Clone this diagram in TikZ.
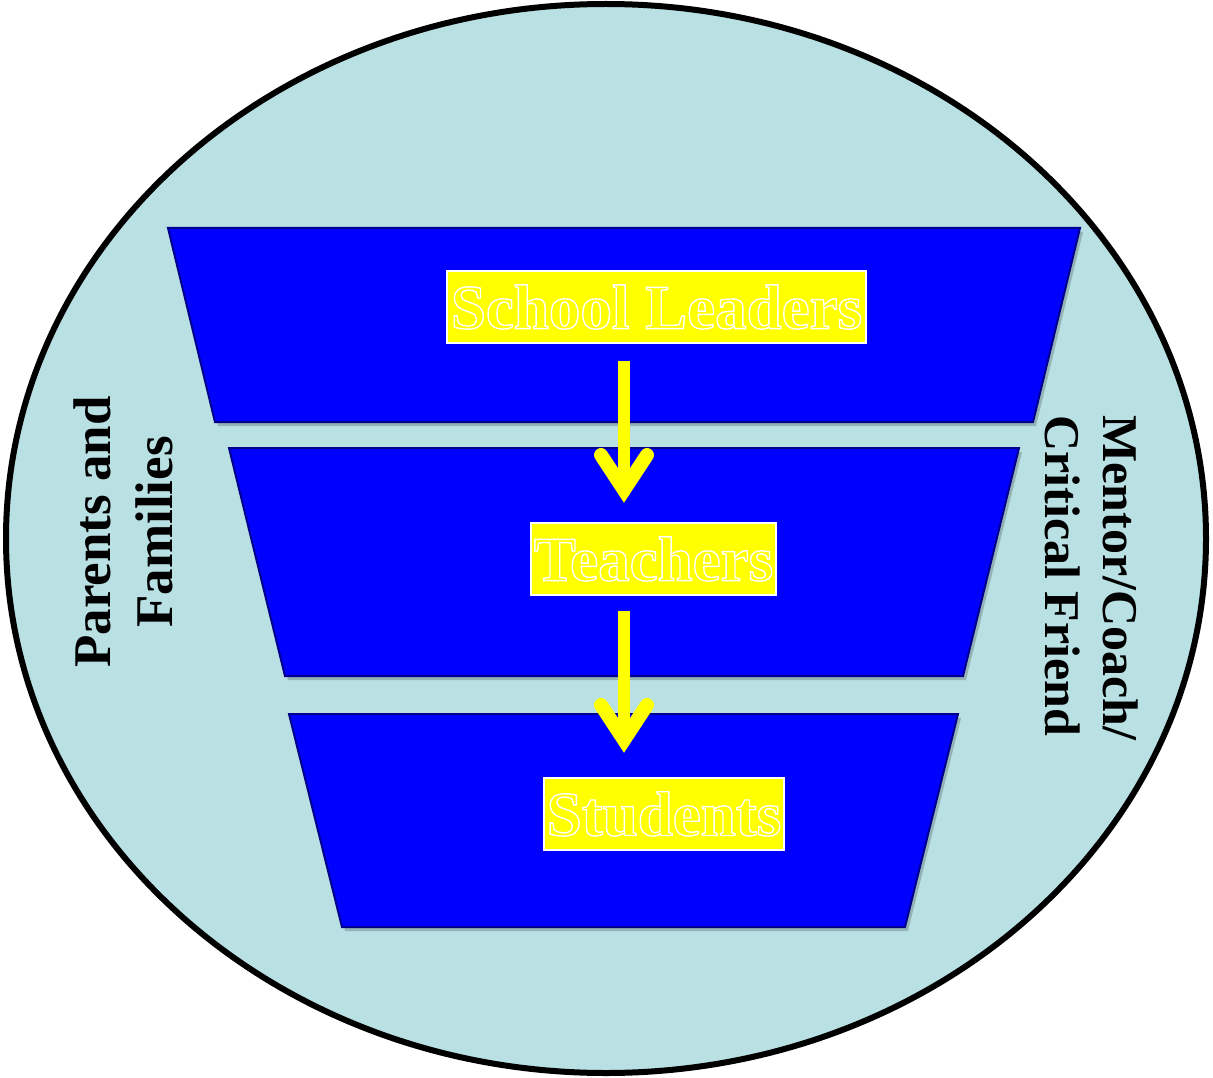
\documentclass[tikz,border=0pt]{standalone}
\usepackage{fontspec}
\setmainfont{Liberation Serif}
\usetikzlibrary{calc}
\definecolor{bg}{RGB}{185,224,227}
\definecolor{tblue}{RGB}{0,0,255}
\definecolor{tedge}{RGB}{0,0,140}
\definecolor{ylw}{RGB}{255,255,0}
\newcommand\outlinetext[1]{\special{pdf:literal direct 2 Tr 1.4 w 1 1 1 RG}#1\special{pdf:literal direct 0 Tr}}
\tikzset{
  trapshape/.style={fill=tblue, draw=tedge, line width=2, line join=miter},
  trapshadow/.style={fill=black, opacity=0.2},
  lbl/.style={fill=ylw, draw=white, line width=1.2, text=ylw, inner sep=0,
    font=\bfseries\fontsize{63}{70}\selectfont, minimum height=72},
  side/.style={inner sep=0, text=black},
  arrshaft/.style={draw=ylw, line width=12},
  arrhead/.style={draw=ylw, line width=14, line cap=round, line join=miter},
}
\begin{document}
\begin{tikzpicture}[x=1pt,y=-1pt]
\useasboundingbox (0,0) rectangle (1213,1078);
\path[fill=bg, draw=black, line width=6] (606,538.5) ellipse [x radius=600, y radius=534.5];
% trapezoids
\begin{scope}[shift={(3,4)}]
\path[trapshadow] (168,228) -- (1080,228) -- (1033,422) -- (215,422) -- cycle;
\path[trapshadow] (229,448) -- (1019,448) -- (963,676) -- (285,676) -- cycle;
\path[trapshadow] (289,714) -- (958,714) -- (905,927) -- (342,927) -- cycle;
\end{scope}
\path[trapshape] (168,228) -- (1080,228) -- (1033,422) -- (215,422) -- cycle;
\path[trapshape] (229,448) -- (1019,448) -- (963,676) -- (285,676) -- cycle;
\path[trapshape] (289,714) -- (958,714) -- (905,927) -- (342,927) -- cycle;
% labels
\node[lbl, minimum width=419] (sl) at (656.5,307) {\outlinetext{School Leaders}};
\node[lbl, minimum width=245] (te) at (653.5,559) {\outlinetext{Teachers}};
\node[lbl, minimum width=240] (st) at (664,814) {\outlinetext{Students}};
% arrows
\coordinate (a1s) at (624,361);
\coordinate (a1t) at (624,503);
\coordinate (a2s) at (624,611);
\coordinate (a2t) at (624,753);
\draw[arrshaft] (a1s) -- ($(a1t)+(0,-13)$);
\draw[arrhead] ($(a1t)+(-23,-48)$) -- ($(a1t)+(0,-13)$) -- ($(a1t)+(23,-48)$);
\draw[arrshaft] (a2s) -- ($(a2t)+(0,-13)$);
\draw[arrhead] ($(a2t)+(-23,-48)$) -- ($(a2t)+(0,-13)$) -- ($(a2t)+(23,-48)$);
% side texts
\node[side, rotate=90, align=center, font=\bfseries\fontsize{53}{62}\selectfont] (pf) at (123,532) {Parents and\\Families};
\node[side, rotate=-90, align=left, font=\bfseries\fontsize{50}{58}\selectfont] (mc) at (1092,578) {Mentor/Coach/\\Critical Friend};
\end{tikzpicture}
\end{document}
